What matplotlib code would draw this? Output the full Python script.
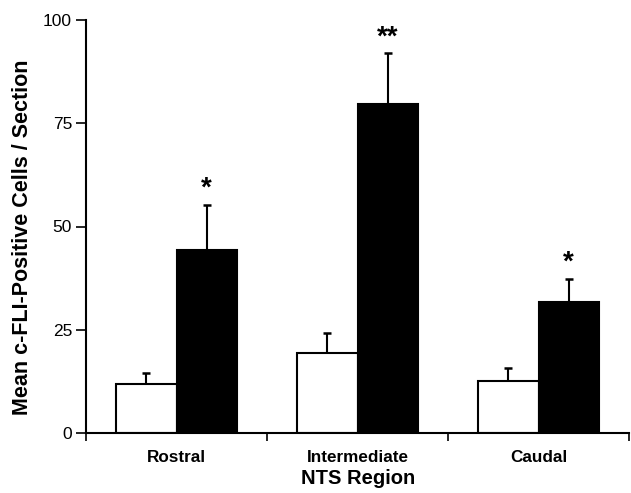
import matplotlib
matplotlib.use("Agg")
import matplotlib.pyplot as plt
import numpy as np

categories = ["Rostral", "Intermediate", "Caudal"]
control_means = [11.8, 19.4, 12.7]
control_err = [2.8, 4.9, 3.0]
treated_means = [44.3, 79.7, 31.8]
treated_err = [10.9, 12.2, 5.5]
stars = ["*", "**", "*"]
yticks = [0, 25, 50, 75, 100]

plt.rcParams['font.family'] = ['Liberation Sans', 'DejaVu Sans']

fig = plt.figure(figsize=(6.31, 4.93), dpi=100)
ax = fig.add_axes([86/631, 1-433/493, (629-86)/631, (433-20)/493])

x = np.arange(len(categories)) + 0.5
w = 0.333

ax.bar(x - w/2, control_means, width=w, color='white', edgecolor='black', linewidth=1.5, zorder=2)
ax.bar(x + w/2, treated_means, width=w, color='black', edgecolor='black', linewidth=1.5, zorder=2)

ax.errorbar(x - w/2, control_means, yerr=[np.zeros(3), control_err], fmt='none',
            ecolor='black', elinewidth=1.5, capsize=3, capthick=1.8, zorder=1)
ax.errorbar(x + w/2, treated_means, yerr=[np.zeros(3), treated_err], fmt='none',
            ecolor='black', elinewidth=1.5, capsize=3, capthick=1.8, zorder=1)

for xi, m, e, s in zip(x + w/2, treated_means, treated_err, stars):
    ax.text(xi, m + e + 0.8, s, ha='center', va='bottom', fontsize=20, fontweight='bold')

ax.set_xlim(0, 3)
ax.set_ylim(0, 100)
ax.set_yticks(yticks)
ax.set_yticklabels([str(t) for t in yticks], fontsize=12.5)
ax.set_xticks([0, 1, 2, 3])
ax.set_xticklabels([])
ax.set_xticks(x, minor=True)
ax.set_xticklabels(categories, minor=True, fontsize=12.3, fontweight='bold')
ax.tick_params(axis='x', which='minor', length=0, pad=12)
ax.tick_params(axis='x', which='major', length=6, width=1.2, direction='out')
ax.tick_params(axis='y', length=7, width=1.2, direction='out', pad=3)

for sp in ['top', 'right']:
    ax.spines[sp].set_visible(False)
ax.spines['left'].set_linewidth(1.5)
ax.spines['bottom'].set_linewidth(1.5)
ax.spines['bottom'].set_bounds(0, 3)

ax.set_ylabel("Mean c-FLI-Positive Cells / Section", fontsize=15.5, fontweight='bold')
ax.yaxis.set_label_coords(-0.098, 0.475)
ax.set_xlabel("NTS Region", fontsize=14.5, fontweight='bold')
ax.xaxis.set_label_coords(0.501, -0.088)

fig.savefig("out.png", dpi=100)
